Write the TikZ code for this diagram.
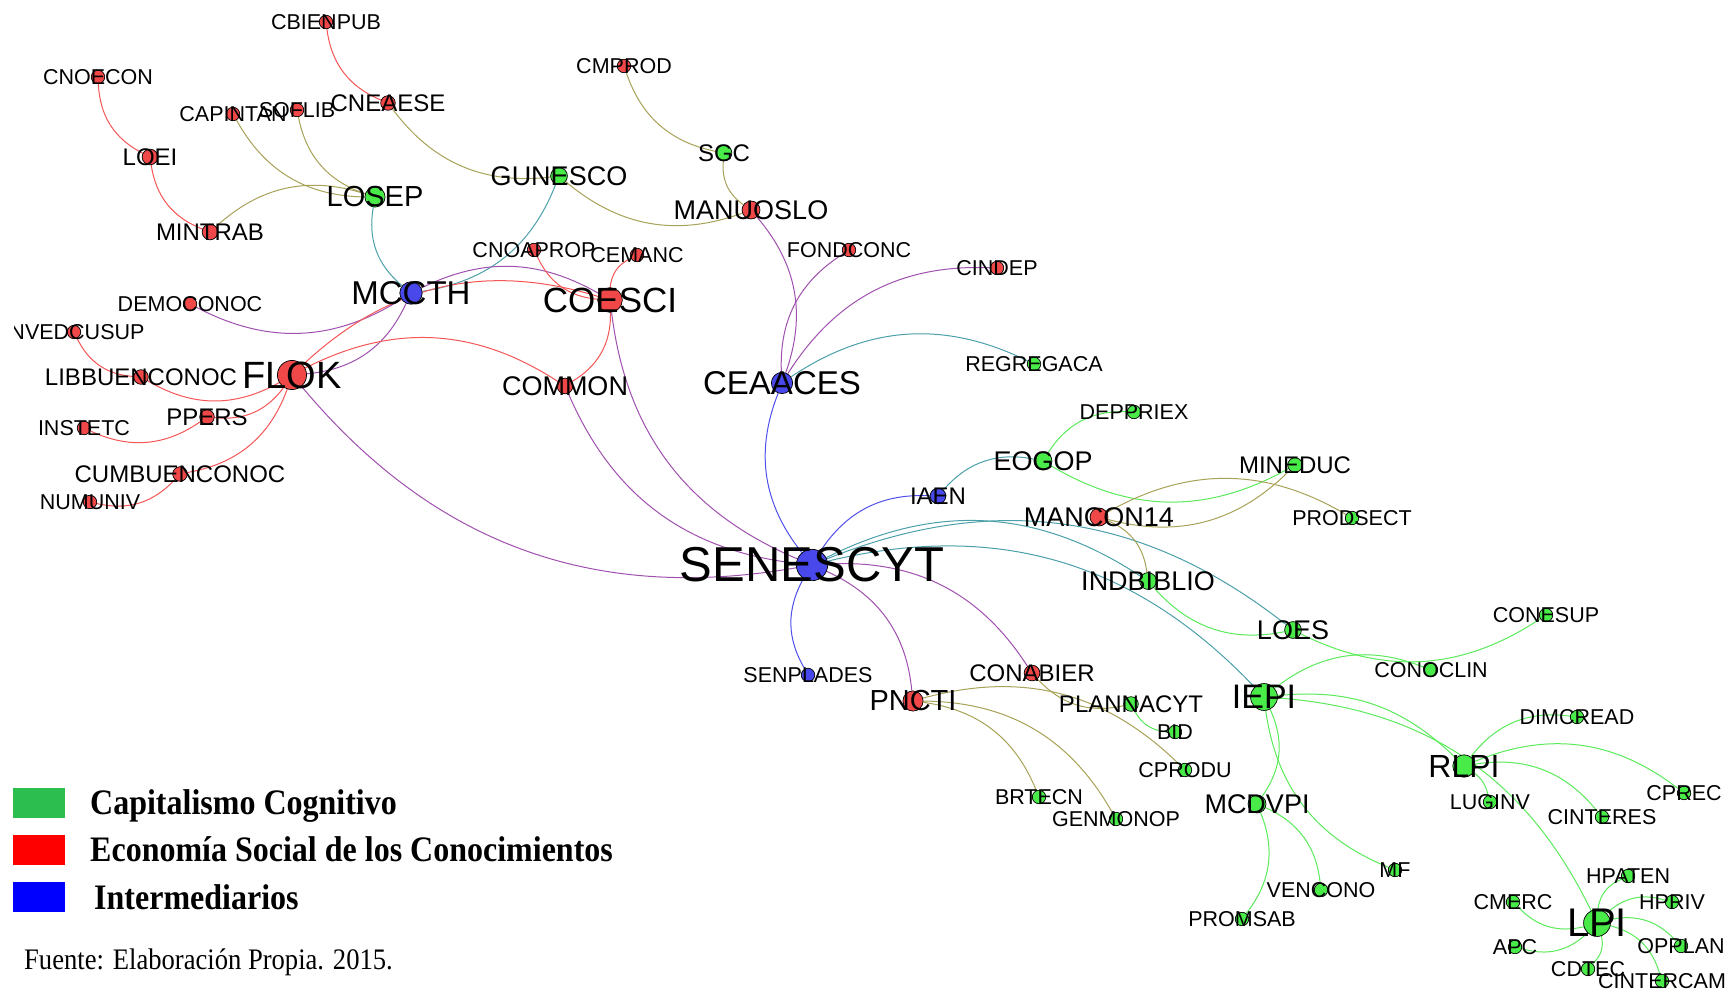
\documentclass[tikz,border=0pt]{standalone}
\usepackage{fontspec}
\usepackage{graphicx}
\setmainfont{Liberation Serif}
\newfontfamily\labfont{Liberation Sans}
\pgfdeclarelayer{bg}
\pgfdeclarelayer{edges}
\pgfdeclarelayer{labels}
\pgfsetlayers{bg,edges,main,labels}
\definecolor{nred}{RGB}{240,72,72}
\definecolor{ngrn}{RGB}{72,235,72}
\definecolor{nblu}{RGB}{72,72,235}
\definecolor{ered}{RGB}{245,85,85}
\definecolor{egrn}{RGB}{90,235,90}
\definecolor{eblu}{RGB}{80,80,235}
\definecolor{eoli}{RGB}{168,162,88}
\definecolor{epur}{RGB}{160,80,175}
\definecolor{etea}{RGB}{75,160,170}
\definecolor{lgrn}{RGB}{45,190,80}
\definecolor{lred}{RGB}{255,0,0}
\definecolor{lblu}{RGB}{0,0,255}
\tikzset{
  nodecirc/.style={circle, draw=black, line width=0.7pt, inner sep=0pt},
  lab/.style={inner sep=0pt, text=black},
  edge/.style={line width=1pt},
  legbox/.style={inner sep=0pt, minimum width=52pt, minimum height=30pt},
  legtext/.style={anchor=base west, inner sep=0pt, font=\bfseries\fontsize{32}{32}\selectfont},
}
\newcommand\nd[7]{%
  \node[nodecirc, fill=#4, minimum size=#5*1.12pt] (#1) at (#2,-#3) {};
  \begin{pgfonlayer}{labels}
  \node[lab, font=\labfont\fontsize{#6}{#6}\selectfont] (#1-l) at (#2,-#3) {#7};
  \end{pgfonlayer}}
\begin{document}
\begin{tikzpicture}[x=1pt,y=1pt]
\begin{pgfonlayer}{bg}
\fill[white] (0,0) rectangle (1729,-992);
\end{pgfonlayer}
\useasboundingbox (0,0) rectangle (1729,-992);
% big nodes
\nd{senescyt}{812}{565}{nblu}{28}{49}{SENESCYT}
\nd{flok}{292}{375}{nred}{26}{38}{FLOK}
\nd{coesci}{610}{300}{nred}{22}{35}{COESCI}
\nd{mccth}{411}{293}{nblu}{20}{33}{MCCTH}
\nd{ceaaces}{782}{383}{nblu}{19}{33}{CEAACES}
\nd{iepi}{1264}{697}{ngrn}{24}{34}{IEPI}
\nd{lpi}{1597}{923}{ngrn}{24}{40}{LPI}
\nd{rlpi}{1464}{766}{ngrn}{20}{32}{RLPI}
\nd{losep}{375}{197}{ngrn}{18}{29}{LOSEP}
\nd{pncti}{913}{701}{nred}{18}{29}{PNCTI}
\nd{gunesco}{559}{176}{ngrn}{15}{27}{GUNESCO}
\nd{manuoslo}{751}{210}{nred}{16}{27}{MANUOSLO}
\nd{mancon}{1099}{517}{nred}{16}{27}{MANCON14}
\nd{eogop}{1043}{461}{ngrn}{16}{27}{EOGOP}
\nd{indbiblio}{1148}{581}{ngrn}{15}{27}{INDBIBLIO}
\nd{loes}{1293}{630}{ngrn}{15}{27}{LOES}
\nd{mcdvpi}{1257}{804}{ngrn}{16}{27}{MCDVPI}
\nd{common}{565}{386}{nred}{14}{27}{COMMON}
% medium
\nd{iaen}{938}{496}{nblu}{14}{24}{IAEN}
\nd{conabier}{1032}{673}{nred}{14}{24}{CONABIER}
\nd{plannacyt}{1131}{704}{ngrn}{13}{24}{PLANNACYT}
\nd{mineduc}{1295}{465}{ngrn}{13}{24}{MINEDUC}
\nd{loei}{150}{157}{nred}{14}{24}{LOEI}
\nd{mintrab}{210}{232}{nred}{14}{24}{MINTRAB}
\nd{cneaese}{388}{103}{nred}{13}{24}{CNEAESE}
\nd{sgc}{724}{153}{ngrn}{14}{24}{SGC}
\nd{libbuen}{141}{377}{nred}{13}{24}{LIBBUENCONOC}
\nd{cumbuen}{180}{474}{nred}{13}{24}{CUMBUENCONOC}
\nd{ppers}{207}{417}{nred}{13}{24}{PPERS}
% small
\nd{cbienpub}{326}{22}{nred}{12}{21.5}{CBIENPUB}
\nd{cnoecon}{98}{77}{nred}{12}{21.5}{CNOECON}
\nd{cmprod}{624}{66}{nred}{12}{21.5}{CMPROD}
\nd{capintan}{233}{114}{nred}{12}{21.5}{CAPINTAN}
\nd{soflib}{297}{110}{nred}{12}{21.5}{SOFLIB}
\nd{cnoaprop}{534}{250}{nred}{12}{21.5}{CNOAPROP}
\nd{cemanc}{637}{255}{nred}{12}{21.5}{CEMANC}
\nd{fondconc}{849}{250}{nred}{12}{21.5}{FONDCONC}
\nd{cindep}{997}{268}{nred}{12}{21.5}{CINDEP}
\nd{democonoc}{190}{304}{nred}{12}{21.5}{DEMOCONOC}
\node[nodecirc, fill=nred, minimum size=13.4pt] (invedcusup) at (74,-332) {};
\begin{pgfonlayer}{labels}
\begin{scope}
\clip (14,0) rectangle (400,-992);
\node[lab, font=\labfont\fontsize{21.5}{21.5}\selectfont] (invedcusup-l) at (74,-332) {INVEDCUSUP};
\end{scope}
\end{pgfonlayer}
\nd{regregaca}{1034}{364}{ngrn}{12}{21.5}{REGREGACA}
\nd{instetc}{84}{428}{nred}{12}{21.5}{INSTETC}
\nd{deppriex}{1134}{412}{ngrn}{12}{21.5}{DEPPRIEX}
\nd{numuniv}{90}{502}{nred}{12}{21.5}{NUMUNIV}
\nd{prodsect}{1352}{518}{ngrn}{12}{21.5}{PRODSECT}
\nd{conesup}{1546}{615}{ngrn}{12}{21.5}{CONESUP}
\nd{conoclin}{1431}{670}{ngrn}{12}{21.5}{CONOCLIN}
\nd{senplades}{808}{675}{nblu}{12}{21.5}{SENPLADES}
\nd{dimcread}{1577}{717}{ngrn}{12}{21.5}{DIMCREAD}
\nd{bid}{1175}{732}{ngrn}{12}{21.5}{BID}
\nd{cprodu}{1185}{770}{ngrn}{12}{21.5}{CPRODU}
\nd{cprec}{1684}{793}{ngrn}{12}{21.5}{CPREC}
\nd{luginv}{1490}{802}{ngrn}{12}{21.5}{LUGINV}
\nd{brtecn}{1039}{797}{ngrn}{12}{21.5}{BRTECN}
\nd{cinteres}{1602}{817}{ngrn}{12}{21.5}{CINTERES}
\nd{genmonop}{1116}{819}{ngrn}{12}{21.5}{GENMONOP}
\nd{mf}{1395}{870}{ngrn}{12}{21.5}{MF}
\nd{hpaten}{1628}{876}{ngrn}{12}{21.5}{HPATEN}
\nd{vencono}{1321}{890}{ngrn}{12}{21.5}{VENCONO}
\nd{hpriv}{1672}{902}{ngrn}{12}{21.5}{HPRIV}
\nd{cmerc}{1513}{902}{ngrn}{12}{21.5}{CMERC}
\nd{promsab}{1242}{919}{ngrn}{12}{21.5}{PROMSAB}
\nd{opplan}{1681}{946}{ngrn}{12}{21.5}{OPPLAN}
\nd{apc}{1515}{947}{ngrn}{12}{21.5}{APC}
\nd{cdtec}{1588}{969}{ngrn}{12}{21.5}{CDTEC}
\nd{cintercam}{1662}{981}{ngrn}{12}{21.5}{CINTERCAM}
% edges
\begin{pgfonlayer}{edges}
\draw[edge,ered] (cbienpub) to[bend right=30] (cneaese);
\draw[edge,ered] (cnoecon) to[bend right=30] (loei);
\draw[edge,ered] (loei) to[bend right=30] (mintrab);
\draw[edge,eoli] (capintan) to[bend right=30] (losep);
\draw[edge,eoli] (soflib) to[bend right=30] (losep);
\draw[edge,eoli] (mintrab) to[bend left=30] (losep);
\draw[edge,eoli] (cneaese) to[bend right=30] (gunesco);
\draw[edge,eoli] (gunesco) to[bend right=30] (manuoslo);
\draw[edge,eoli] (cmprod) to[bend right=30] (sgc);
\draw[edge,eoli] (sgc) to[bend right=30] (manuoslo);
\draw[edge,etea] (gunesco) to[bend left=30] (mccth);
\draw[edge,etea] (losep) to[bend right=30] (mccth);
\draw[edge,epur] (manuoslo) to[bend left=30] (ceaaces);
\draw[edge,epur] (fondconc) to[bend right=30] (ceaaces);
\draw[edge,epur] (cindep) to[bend right=30] (ceaaces);
\draw[edge,etea] (regregaca) to[bend right=30] (ceaaces);
\draw[edge,eblu] (ceaaces) to[bend right=30] (senescyt);
\draw[edge,eblu] (iaen) to[bend right=30] (senescyt);
\draw[edge,eblu] (senescyt) to[bend right=30] (senplades);
\draw[edge,epur] (senescyt) to[bend left=30] (pncti);
\draw[edge,epur] (senescyt) to[bend left=30] (conabier);
\draw[edge,epur] (flok) to[bend right=30] (senescyt);
\draw[edge,epur] (common) to[bend right=30] (senescyt);
\draw[edge,epur] (coesci) to[bend right=30] (senescyt);
\draw[edge,etea] (senescyt) to[bend left=30] (indbiblio);
\draw[edge,etea] (senescyt) to[bend left=30] (loes);
\draw[edge,etea] (senescyt) to[bend left=30] (iepi);
\draw[edge,etea] (iaen) to[bend left=30] (eogop);
\draw[edge,egrn] (eogop) to[bend left=30] (deppriex);
\draw[edge,egrn] (eogop) to[bend right=30] (mineduc);
\draw[edge,eoli] (mancon) to[bend right=30] (mineduc);
\draw[edge,eoli] (mancon) to[bend left=30] (prodsect);
\draw[edge,eoli] (mancon) to[bend left=30] (indbiblio);
\draw[edge,egrn] (indbiblio) to[bend right=30] (loes);
\draw[edge,egrn] (loes) to[bend right=30] (conesup);
\draw[edge,egrn] (iepi) to[bend left=30] (conoclin);
\draw[edge,egrn] (iepi) to[bend left=25] (rlpi);
\draw[edge,egrn] (iepi) to[bend left=30] (lpi);
\draw[edge,egrn] (rlpi) to[bend left=30] (dimcread);
\draw[edge,egrn] (rlpi) to[bend left=30] (cprec);
\draw[edge,egrn] (rlpi) to[bend left=30] (cinteres);
\draw[edge,egrn] (rlpi) to[bend left=20] (luginv);
\draw[edge,egrn] (iepi) to[bend left=30] (mcdvpi);
\draw[edge,egrn] (iepi) to[bend right=30] (mf);
\draw[edge,egrn] (mcdvpi) to[bend left=30] (promsab);
\draw[edge,egrn] (mcdvpi) to[bend left=30] (vencono);
\draw[edge,egrn] (lpi) to[bend left=30] (hpaten);
\draw[edge,egrn] (lpi) to[bend left=30] (hpriv);
\draw[edge,egrn] (cmerc) to[bend right=30] (lpi);
\draw[edge,egrn] (apc) to[bend right=30] (lpi);
\draw[edge,egrn] (lpi) to[bend left=30] (opplan);
\draw[edge,egrn] (lpi) to[bend left=30] (cdtec);
\draw[edge,egrn] (lpi) to[bend left=30] (cintercam);
\draw[edge,egrn] (plannacyt) to[bend right=30] (bid);
\draw[edge,eoli] (conabier) to[bend right=30] (plannacyt);
\draw[edge,eoli] (pncti) to[bend left=30] (cprodu);
\draw[edge,eoli] (pncti) to[bend left=30] (brtecn);
\draw[edge,eoli] (pncti) to[bend left=30] (genmonop);
\draw[edge,ered] (flok) to[bend left=30] (ppers);
\draw[edge,ered] (ppers) to[bend left=30] (instetc);
\draw[edge,ered] (flok) to[bend left=30] (cumbuen);
\draw[edge,ered] (cumbuen) to[bend left=30] (numuniv);
\draw[edge,ered] (invedcusup) to[bend right=30] (libbuen);
\draw[edge,ered] (libbuen) to[bend right=30] (flok);
\draw[edge,epur] (democonoc) to[bend right=30] (mccth);
\draw[edge,epur] (mccth) to[bend left=28] (coesci);
\draw[edge,ered] (flok) to[bend left=30] (coesci);
\draw[edge,epur] (flok) to[bend right=30] (mccth);
\draw[edge,ered] (flok) to[bend left=30] (common);
\draw[edge,ered] (cnoaprop) to[bend right=30] (coesci);
\draw[edge,ered] (cemanc) to[bend right=30] (coesci);
\draw[edge,ered] (coesci) to[bend left=30] (common);
\end{pgfonlayer}
% legend
\node[legbox, fill=lgrn] (lg1) at (39,-803) {};
\node[legbox, fill=lred] (lg2) at (39,-850) {};
\node[legbox, fill=lblu] (lg3) at (39,-897) {};
\node[legtext] (lt1) at (90,-814) {\scalebox{1}[1.12]{Capitalismo Cognitivo}};
\node[legtext] (lt2) at (90,-861) {\scalebox{1}[1.12]{Economía Social de los Conocimientos}};
\node[legtext] (lt3) at (94,-909) {\scalebox{1}[1.12]{Intermediarios}};
\node[anchor=base west, inner sep=0pt, font=\fontsize{26.6}{26.6}\selectfont] (src) at (24,-969) {\scalebox{1}[1.12]{Fuente: Elaboración Propia. 2015.}};
\end{tikzpicture}
\end{document}
